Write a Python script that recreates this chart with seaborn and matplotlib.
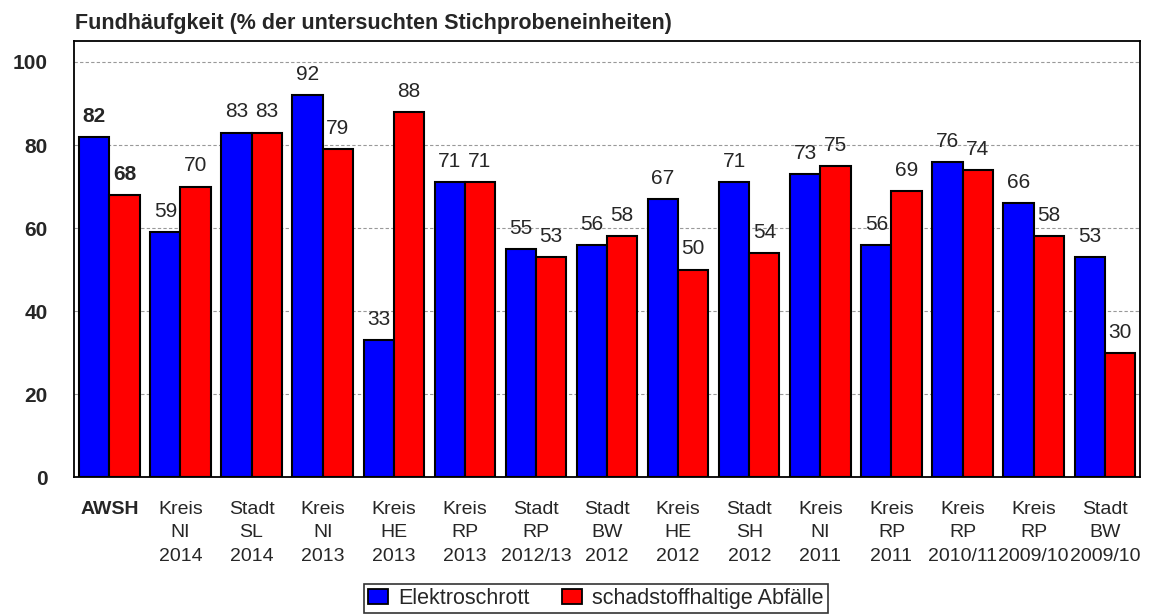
import matplotlib
matplotlib.use("Agg")
import matplotlib.pyplot as plt
import pandas as pd
import seaborn as sns

# data
categories = [
    "AWSH", "Kreis\nNI\n2014", "Stadt\nSL\n2014", "Kreis\nNI\n2013", "Kreis\nHE\n2013",
    "Kreis\nRP\n2013", "Stadt\nRP\n2012/13", "Stadt\nBW\n2012", "Kreis\nHE\n2012",
    "Stadt\nSH\n2012", "Kreis\nNI\n2011", "Kreis\nRP\n2011", "Kreis\nRP\n2010/11",
    "Kreis\nRP\n2009/10", "Stadt\nBW\n2009/10",
]
elektro = [82, 59, 83, 92, 33, 71, 55, 56, 67, 71, 73, 56, 76, 66, 53]
schadstoff = [68, 70, 83, 79, 88, 71, 53, 58, 50, 54, 75, 69, 74, 58, 30]
series = ["Elektroschrott", "schadstoffhaltige Abfälle"]
palette = {"Elektroschrott": "#0000FF", "schadstoffhaltige Abfälle": "#FF0000"}

df = pd.DataFrame({
    "kategorie": categories * 2,
    "wert": elektro + schadstoff,
    "serie": [series[0]] * len(categories) + [series[1]] * len(categories),
})

sns.set_style("white")
plt.rcParams["font.family"] = ["Liberation Sans", "DejaVu Sans"]

fig = plt.figure(figsize=(11.53, 6.15), dpi=100)
ax = fig.add_axes([0.064, 0.224, 0.925, 0.709])

sns.barplot(
    data=df, x="kategorie", y="wert", hue="serie", palette=palette,
    width=0.85, edgecolor="black", linewidth=1.5, saturation=1,
    order=categories, hue_order=series, ax=ax, zorder=3,
)

# value labels, first group in bold
for cont in ax.containers:
    texts = ax.bar_label(cont, padding=8, fontsize=15)
    texts[0].set_fontweight("bold")

ax.set_ylim(0, 105)
ax.set_yticks([0, 20, 40, 60, 80, 100])
ax.set_xlim(-0.5, len(categories) - 0.5)
ax.yaxis.grid(True, color="#999999", linestyle=(0, (3, 2)), linewidth=0.8, zorder=0)
ax.set_axisbelow(True)
ax.set_xlabel("")
ax.set_ylabel("")
for s in ax.spines.values():
    s.set_color("black")
    s.set_linewidth(1.3)

ax.tick_params(axis="y", length=0, pad=19, labelsize=15)
for lbl in ax.get_yticklabels():
    lbl.set_fontweight("bold")
ax.tick_params(axis="x", length=0, pad=17, labelsize=14)
ax.get_xticklabels()[0].set_fontweight("bold")
for lbl in ax.get_xticklabels():
    lbl.set_linespacing(1.5)

fig.text(0.065, 0.962, "Fundhäufgkeit (% der untersuchten Stichprobeneinheiten)",
         fontsize=15.5, fontweight="bold", ha="left", va="center")

ax.legend_.remove()
handles = [plt.Rectangle((0, 0), 1, 1, facecolor=palette[s], edgecolor="black", linewidth=1.3)
           for s in series]
leg = fig.legend(handles, series, loc="center", bbox_to_anchor=(0.517, 0.027), ncol=2,
                 frameon=True, fancybox=False, edgecolor="black", fontsize=15.5,
                 handlelength=0.9, handleheight=0.75, handletextpad=0.5, columnspacing=1.5,
                 borderpad=0.2, borderaxespad=0)
leg.get_frame().set_linewidth(1.2)

fig.savefig("out.png", dpi=100)
